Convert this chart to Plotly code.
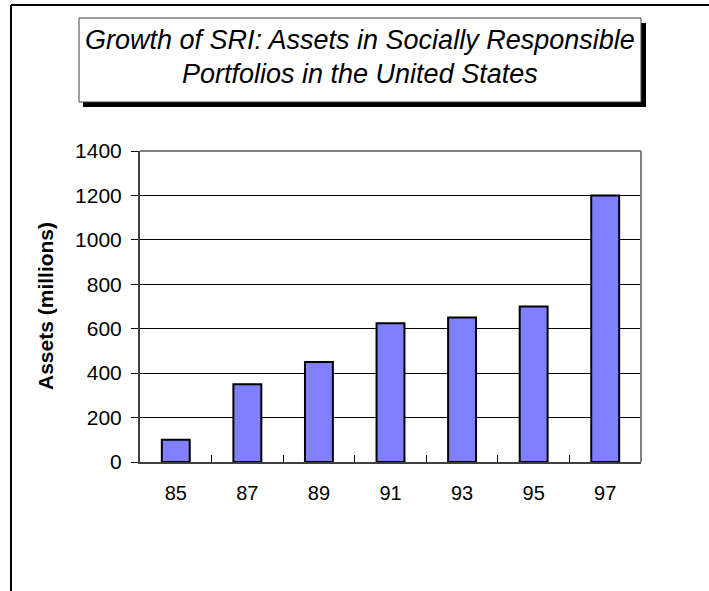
import plotly.graph_objects as go

# ---- data ----
years = ["85", "87", "89", "91", "93", "95", "97"]
assets = [100, 350, 450, 625, 650, 700, 1200]
title_lines = ["Growth of SRI: Assets in Socially Responsible",
               "Portfolios in the United States"]
y_title = "Assets (millions)"

# ---- layout geometry (pixels) ----
FIG_W, FIG_H = 709, 591
L, R, T, B = 140, 641, 151, 462
PW, PH = R - L, B - T


def px(x):
    return (x - L) / PW


def py(y):
    return (B - y) / PH


FONT = "Liberation Sans, Arial, sans-serif"

fig = go.Figure()
fig.add_trace(go.Bar(
    x=years, y=assets,
    marker=dict(color="#8080FF", line=dict(color="black", width=2)),
    hoverinfo="x+y",
))

shapes = [
    # outer frame (left + top)
    dict(type="line", xref="paper", yref="paper", x0=px(11), x1=px(712),
         y0=py(5), y1=py(5), line=dict(color="black", width=2)),
    dict(type="line", xref="paper", yref="paper", x0=px(11), x1=px(11),
         y0=py(5), y1=py(595), line=dict(color="black", width=2)),
    # title shadow
    dict(type="rect", xref="paper", yref="paper", x0=px(83), x1=px(646),
         y0=py(23), y1=py(107), fillcolor="black", line=dict(width=0)),
    # title box
    dict(type="rect", xref="paper", yref="paper", x0=px(79), x1=px(641),
         y0=py(18), y1=py(102), fillcolor="white",
         line=dict(color="#404040", width=1)),
    # plot border top/right (grey)
    dict(type="line", xref="paper", yref="paper", x0=0, x1=1, y0=1, y1=1,
         line=dict(color="#808080", width=2), layer="above"),
    dict(type="line", xref="paper", yref="paper", x0=1, x1=1, y0=0, y1=1,
         line=dict(color="#808080", width=2), layer="above"),
]

annotations = [
    dict(text="<i>" + title_lines[0] + "</i>", xref="paper", yref="paper",
         x=px(360), y=py(40), xanchor="center", yanchor="middle",
         showarrow=False, font=dict(family=FONT, size=27, color="black")),
    dict(text="<i>" + title_lines[1] + "</i>", xref="paper", yref="paper",
         x=px(360), y=py(74), xanchor="center", yanchor="middle",
         showarrow=False, font=dict(family=FONT, size=27, color="black")),
    dict(text="<b>" + y_title + "</b>", xref="paper", yref="paper",
         x=px(45), y=py(306), xanchor="center", yanchor="middle",
         textangle=-90, showarrow=False,
         font=dict(family=FONT, size=21, color="black")),
]

fig.update_layout(
    width=FIG_W, height=FIG_H,
    margin=dict(l=L, r=FIG_W - R, t=T, b=FIG_H - B, pad=0),
    paper_bgcolor="white", plot_bgcolor="white",
    showlegend=False,
    bargap=0.61,
    font=dict(family=FONT, size=20, color="black"),
    shapes=shapes, annotations=annotations,
    xaxis=dict(type="category", showgrid=False, showline=True,
               linecolor="#404040", linewidth=2,
               ticks="inside", tickson="boundaries", ticklen=7,
               tickcolor="black", tickwidth=1,
               ticklabelstandoff=12,
               tickfont=dict(family=FONT, size=20, color="black")),
    yaxis=dict(range=[0, 1400], dtick=200, showgrid=True, gridcolor="black",
               gridwidth=1, showline=True, linecolor="#404040", linewidth=2,
               ticks="outside", ticklen=7, tickcolor="black", tickwidth=1,
               ticklabelstandoff=5, zeroline=False,
               tickfont=dict(family=FONT, size=21, color="black")),
)

fig.write_html("out.html")
